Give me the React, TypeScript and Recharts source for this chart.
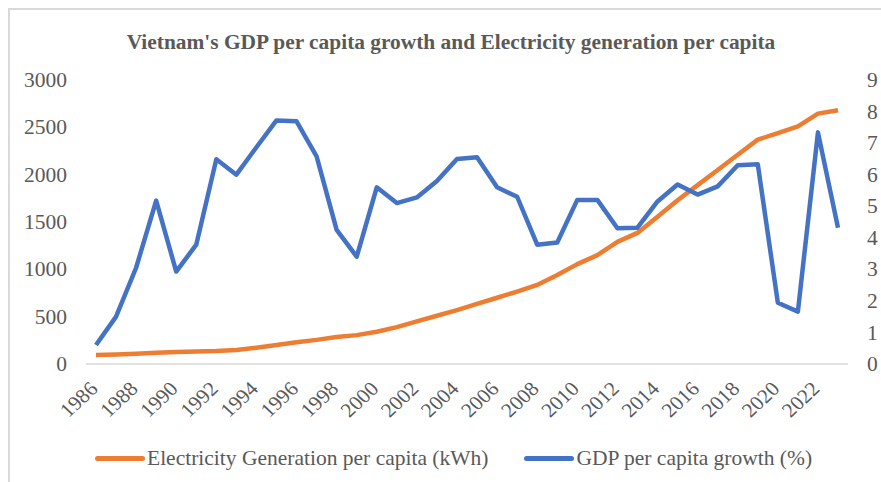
import React from 'react';
import { LineChart, Line, XAxis, YAxis, Legend } from 'recharts';

// categories (every year drawn, every other year labelled)
const years = [
  '1986', '1987', '1988', '1989', '1990', '1991', '1992', '1993', '1994', '1995',
  '1996', '1997', '1998', '1999', '2000', '2001', '2002', '2003', '2004', '2005',
  '2006', '2007', '2008', '2009', '2010', '2011', '2012', '2013', '2014', '2015',
  '2016', '2017', '2018', '2019', '2020', '2021', '2022', '2023',
];

// kWh per person, left axis
const electricity = [
  95, 100, 107, 118, 128, 133, 138, 148, 172, 200,
  230, 255, 285, 305, 340, 390, 450, 510, 570, 635,
  700, 765, 835, 940, 1055, 1150, 1290, 1385, 1555, 1730,
  1890, 2050, 2210, 2370, 2440, 2510, 2645, 2680,
];

// % growth, right axis
const gdpGrowth = [
  0.6, 1.5, 3.05, 5.18, 2.93, 3.78, 6.49, 6.0, 6.87, 7.72,
  7.69, 6.58, 4.25, 3.4, 5.6, 5.1, 5.28, 5.8, 6.5, 6.55,
  5.6, 5.3, 3.78, 3.85, 5.2, 5.2, 4.3, 4.32, 5.15, 5.69,
  5.37, 5.63, 6.3, 6.33, 1.94, 1.66, 7.34, 4.32,
];

const leftTicks = [0, 500, 1000, 1500, 2000, 2500, 3000];
const rightTicks = [0, 1, 2, 3, 4, 5, 6, 7, 8, 9];

const data = years.map((year, i) => ({
  year,
  electricity: electricity[i],
  gdp: gdpGrowth[i],
}));

const FONT = '"Liberation Serif", "Times New Roman", serif';
const TEXT = '#595959';
const ORANGE = '#ED7D31';
const BLUE = '#4472C4';
// the source picture is a little wider than tall, text looks stretched
const STRETCH = 1.075;

const YearTick = (props: any) => {
  const { x, y, payload } = props;
  const tx = x + 3;
  const ty = y + 18;
  return (
    <g transform={`translate(${tx},${ty}) scale(${STRETCH},1) rotate(-45)`}>
      <text x={0} y={0} textAnchor="end" fill={TEXT} fontSize={20} fontFamily={FONT}>
        {payload.value}
      </text>
    </g>
  );
};

const ValueTick = (props: any) => {
  const { x, y, payload, textAnchor } = props;
  return (
    <g transform={`translate(${x},${y}) scale(${STRETCH},1)`}>
      <text x={0} y={0} dy="0.355em" textAnchor={textAnchor} fill={TEXT} fontSize={20} fontFamily={FONT}>
        {payload.value}
      </text>
    </g>
  );
};

const LegendContent = (props: any) => {
  const items = props.payload || [];
  return (
    <div style={{ display: 'flex', alignItems: 'center', paddingLeft: 85 }}>
      {items.map((item: any) => (
        <div key={item.value} style={{ display: 'flex', alignItems: 'center', marginRight: 36 }}>
          <span
            style={{
              display: 'inline-block',
              width: 50,
              height: 5,
              borderRadius: 3,
              background: item.color,
              marginRight: 2,
            }}
          />
          <span style={{ fontFamily: FONT, fontSize: 21.5, lineHeight: '24px', color: TEXT }}>
            {item.value}
          </span>
        </div>
      ))}
    </div>
  );
};

export default function App() {
  return (
    <div style={{ position: 'relative', width: 881, height: 482, overflow: 'hidden', background: '#fff' }}>
      <style>{'body{margin:0}'}</style>
      {/* chart frame, only its top and left edges fall inside the window */}
      <div
        style={{
          position: 'absolute',
          left: 8,
          top: 8,
          width: 900,
          height: 500,
          borderTop: '2px solid #D9D9D9',
          borderLeft: '2px solid #D9D9D9',
        }}
      />
      <div
        style={{
          position: 'absolute',
          top: 30,
          left: 0,
          width: 902,
          textAlign: 'center',
          fontFamily: FONT,
          fontWeight: 'bold',
          fontSize: 21.4,
          lineHeight: '24px',
          color: TEXT,
        }}
      >
        Vietnam's GDP per capita growth and Electricity generation per capita
      </div>
      <div style={{ position: 'absolute', left: 10, top: 10 }}>
        <LineChart
          width={871}
          height={472}
          data={data}
          margin={{ top: 70, right: 0, bottom: 0, left: 0 }}
        >
          <XAxis
            dataKey="year"
            interval={1}
            tickLine={false}
            axisLine={{ stroke: '#D9D9D9', strokeWidth: 1.5 }}
            padding={{ left: 10, right: 10 }}
            height={118}
            tick={<YearTick />}
          />
          <YAxis
            yAxisId="left"
            domain={[0, 3000]}
            ticks={leftTicks}
            width={76}
            axisLine={false}
            tickLine={false}
            tickMargin={13}
            tick={<ValueTick />}
          />
          <YAxis
            yAxisId="right"
            orientation="right"
            domain={[0, 9]}
            ticks={rightTicks}
            width={33}
            axisLine={false}
            tickLine={false}
            tickMargin={13}
            tick={<ValueTick />}
          />
          <Legend
            verticalAlign="middle"
            align="center"
            wrapperStyle={{ top: 436, left: 0, width: 871 }}
            content={<LegendContent />}
          />
          <Line
            yAxisId="left"
            type="linear"
            dataKey="electricity"
            name="Electricity Generation per capita (kWh)"
            stroke={ORANGE}
            strokeWidth={4.5}
            strokeLinejoin="round"
            dot={false}
            isAnimationActive={false}
          />
          <Line
            yAxisId="right"
            type="linear"
            dataKey="gdp"
            name="GDP per capita growth (%)"
            stroke={BLUE}
            strokeWidth={4.5}
            strokeLinejoin="round"
            dot={false}
            isAnimationActive={false}
          />
        </LineChart>
      </div>
    </div>
  );
}
